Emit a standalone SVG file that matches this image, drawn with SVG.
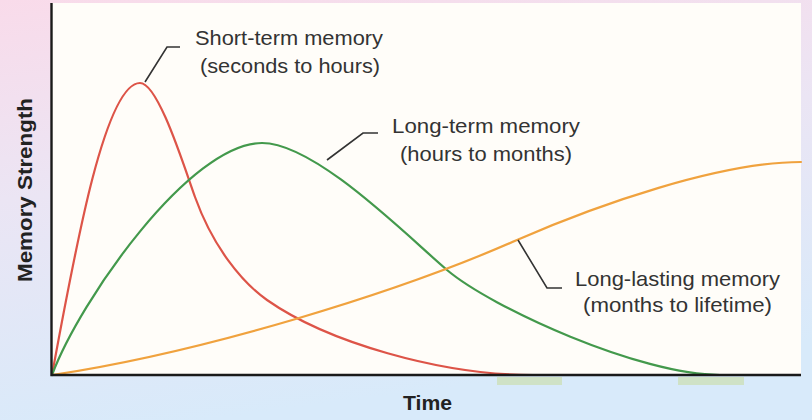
<svg xmlns="http://www.w3.org/2000/svg" width="812" height="420" viewBox="0 0 812 420">
<defs>
<linearGradient id="bg" x1="0" y1="0" x2="0.25" y2="1">
<stop offset="0" stop-color="#f9dbea"/>
<stop offset="0.45" stop-color="#ebe5f4"/>
<stop offset="1" stop-color="#d8eafa"/>
</linearGradient>
<style>
.curve{fill:none;stroke-width:2.2;stroke-linecap:round;stroke-linejoin:round}
.ptr{fill:none;stroke:#333;stroke-width:1.6}
.lbl{font-family:"Liberation Sans",Arial,sans-serif;font-size:21px;fill:#333}
.ax{font-family:"Liberation Sans",Arial,sans-serif;font-size:21px;font-weight:bold;fill:#222}
.axis{stroke:#1a1a1a;stroke-width:2.4;fill:none}
.hl{fill:#cfe2c6}
</style>
</defs>
<rect x="0" y="0" width="812" height="420" fill="url(#bg)"/>
<rect id="plot" x="51" y="3" width="750" height="372" fill="#fffdf9"/>
<g id="highlights">
<rect class="hl" x="497" y="377" width="65" height="8"/>
<rect class="hl" x="678" y="377" width="66" height="8"/>
</g>
<g id="short-term-curve">
<path class="curve" stroke="#dd5448" d="M52,375 C75,250 105,83 140,83 C158,83 183,163.4 195,197 C213,247 242,282.5 267,300 C327,342 440,375 533,375"/>
</g>
<g id="long-term-curve">
<path class="curve" stroke="#43994c" d="M52,375 C80,300 190,143 262,143 C315,143 405,234 447,270 C492,308 640,375 720,375"/>
</g>
<g id="long-lasting-curve">
<path class="curve" stroke="#f0a23e" d="M52,375 C202,352.5 397,293 517,240 C597,205 720,162 801,162"/>
</g>
<g id="axes">
<path class="axis" d="M51.5,3 L51.5,375 L801,375"/>
</g>
<g id="connectors">
<path class="ptr" d="M145,82 L167,47 L180,47"/>
<path class="ptr" d="M327,160 L363,133 L378,133"/>
<path class="ptr" d="M518,240 L547,288 L562,288"/>
</g>
<g id="label-short-term">
<text class="lbl" x="195" y="45" textLength="188" lengthAdjust="spacingAndGlyphs">Short-term memory</text>
<text class="lbl" x="200" y="73" textLength="180" lengthAdjust="spacingAndGlyphs">(seconds to hours)</text>
</g>
<g id="label-long-term">
<text class="lbl" x="392" y="133" textLength="188" lengthAdjust="spacingAndGlyphs">Long-term memory</text>
<text class="lbl" x="400" y="161" textLength="172" lengthAdjust="spacingAndGlyphs">(hours to months)</text>
</g>
<g id="label-long-lasting">
<text class="lbl" x="575" y="286" textLength="205" lengthAdjust="spacingAndGlyphs">Long-lasting memory</text>
<text class="lbl" x="583" y="312" textLength="189" lengthAdjust="spacingAndGlyphs">(months to lifetime)</text>
</g>
<g id="axis-labels">
<text class="ax" transform="translate(32,190) rotate(-90)" text-anchor="middle" x="0" y="0" textLength="184" lengthAdjust="spacingAndGlyphs">Memory Strength</text>
<text class="ax" x="403" y="410" textLength="49" lengthAdjust="spacingAndGlyphs">Time</text>
</g>
</svg>
